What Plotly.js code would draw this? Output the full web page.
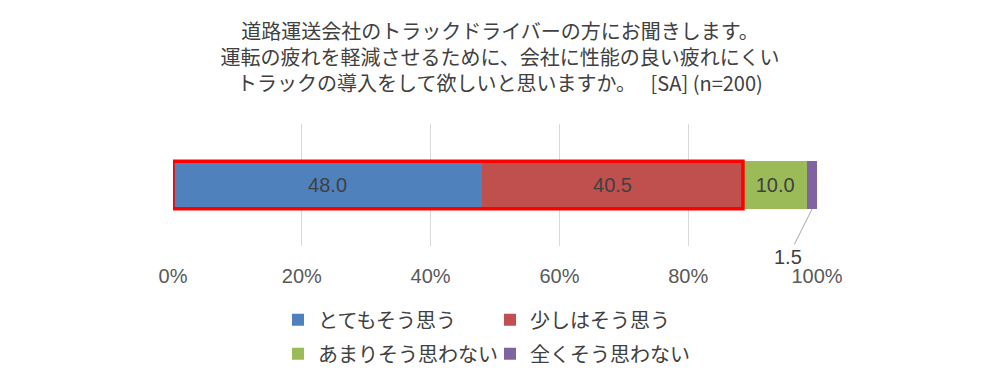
<!DOCTYPE html>
<html>
<head>
<meta charset="utf-8">
<script src="https://cdn.plot.ly/plotly-3.0.1.min.js"></script>
<style>html,body{margin:0;padding:0;background:#fff;}#chart{width:1008px;height:386px;}</style>
</head>
<body>
<div id="chart"></div>
<script>
// ---- data ----
const titleLines = [
  "道路運送会社のトラックドライバーの方にお聞きします。",
  "運転の疲れを軽減させるために、会社に性能の良い疲れにくい",
  "トラックの導入をして欲しいと思いますか。　 [SA] (n=200)"
];
const seriesNames = ["とてもそう思う", "少しはそう思う", "あまりそう思わない", "全くそう思わない"];
const seriesValues = [48.0, 40.5, 10.0, 1.5];
const seriesColors = ["#4F81BD", "#C0504D", "#9BBB59", "#8064A2"];
const tickValues = [0, 20, 40, 60, 80, 100];
const tickLabels = ["0%", "20%", "40%", "60%", "80%", "100%"];

const barWidth = 0.39;
const CJK = '"Noto Sans CJK JP", "Noto Sans", sans-serif';
const LAT = '"Liberation Sans", Arial, sans-serif';

const traces = seriesNames.map((name, i) => ({
  type: 'bar',
  orientation: 'h',
  name: name,
  x: [seriesValues[i]],
  y: [0],
  width: barWidth,
  marker: {color: seriesColors[i], line: {width: 0}},
  text: [seriesValues[i].toFixed(1)],
  textposition: i < 3 ? 'inside' : 'none',
  insidetextanchor: 'middle',
  textfont: {family: LAT, size: 20, color: '#404040'},
  hoverinfo: 'skip',
  legend: (i % 2 === 0) ? 'legend' : 'legend2',
  legendgroup: 'g' + i
}));

const highlightEnd = seriesValues[0] + seriesValues[1];
const total = seriesValues.reduce((a, b) => a + b, 0);
const lastMid = total - seriesValues[3] / 2;

const legendCommon = {
  orientation: 'v',
  yanchor: 'top',
  xanchor: 'left',
  font: {family: CJK, size: 20, color: '#404040'},
  traceorder: 'grouped',
  bgcolor: 'rgba(0,0,0,0)',
  tracegroupgap: 5
};

const layout = {
  width: 1008,
  height: 386,
  margin: {l: 173, r: 191, t: 124, b: 125, pad: 0},
  paper_bgcolor: '#ffffff',
  plot_bgcolor: '#ffffff',
  barmode: 'stack',
  bargap: 0,
  showlegend: true,
  title: {
    text: titleLines.join('<br>'),
    font: {family: CJK, size: 20, color: '#404040'},
    x: 0.496, xref: 'container', xanchor: 'center',
    y: 1 - 39 / 386, yref: 'container', yanchor: 'top'
  },
  xaxis: {
    range: [0, 100],
    tickmode: 'array',
    tickvals: tickValues,
    ticktext: tickLabels,
    showgrid: true,
    gridcolor: '#d9d9d9',
    gridwidth: 1,
    zeroline: false,
    showline: false,
    ticks: '',
    ticklabelstandoff: 16,
    tickfont: {family: LAT, size: 20, color: '#595959'},
    fixedrange: true
  },
  yaxis: {
    range: [-0.5, 0.5],
    showgrid: false,
    zeroline: false,
    showline: false,
    showticklabels: false,
    ticks: '',
    fixedrange: true
  },
  legend: Object.assign({}, legendCommon, {
    x: (278 - 173) / 644,
    y: (261 - 322) / 137
  }),
  legend2: Object.assign({}, legendCommon, {
    x: (490 - 173) / 644,
    y: (261 - 322) / 137
  }),
  shapes: [{
    type: 'rect', xref: 'x', yref: 'y',
    x0: 0, x1: highlightEnd,
    y0: -barWidth / 2, y1: barWidth / 2,
    line: {color: '#ff0000', width: 3.5},
    fillcolor: 'rgba(0,0,0,0)',
    layer: 'above'
  }],
  annotations: [{
    xref: 'x', yref: 'y',
    x: lastMid, y: -barWidth / 2,
    text: seriesValues[3].toFixed(1),
    showarrow: true,
    arrowhead: 0,
    arrowwidth: 1,
    arrowcolor: '#a6a6a6',
    standoff: 0,
    ax: -24, ay: 48,
    font: {family: LAT, size: 20, color: '#404040'}
  }]
};

Plotly.newPlot('chart', traces, layout, {displayModeBar: false, staticPlot: true});
</script>
</body>
</html>
